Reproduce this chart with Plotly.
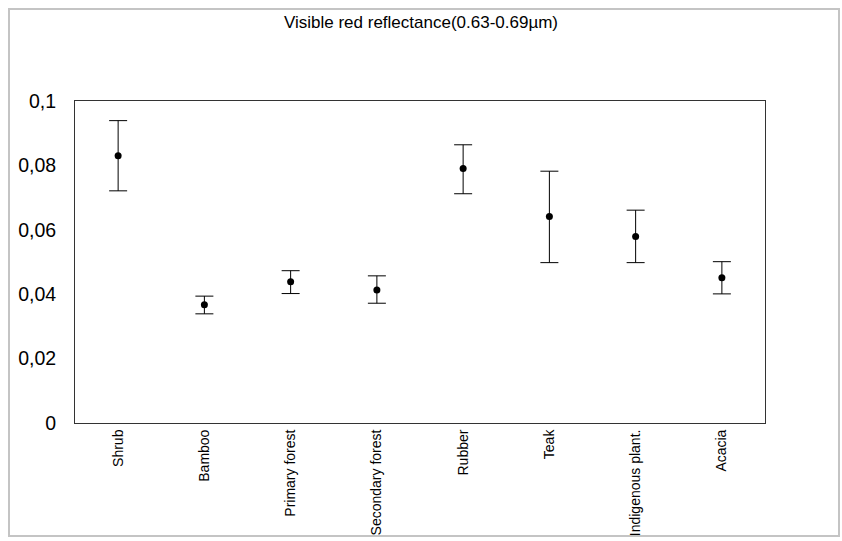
import plotly.graph_objects as go

categories = ["Shrub", "Bamboo", "Primary forest", "Secondary forest", "Rubber", "Teak", "Indigenous plant.", "Acacia"]
means = [0.0830, 0.0367, 0.0439, 0.0413, 0.0790, 0.0641, 0.0579, 0.0451]
upper = [0.0939, 0.0394, 0.0473, 0.0457, 0.0864, 0.0782, 0.0661, 0.0501]
lower = [0.0721, 0.0339, 0.0402, 0.0372, 0.0712, 0.0498, 0.0498, 0.0401]
y_ticks = [0, 0.02, 0.04, 0.06, 0.08, 0.1]

err_plus = [u - m for u, m in zip(upper, means)]
err_minus = [m - l for m, l in zip(means, lower)]

W, H = 842, 541
ml, mr, mt, mb = 75, 77, 101, 118
pw, ph = W - ml - mr, H - mt - mb

fig = go.Figure(go.Scatter(
    x=categories, y=means, mode="markers",
    marker=dict(color="black", size=7),
    error_y=dict(type="data", symmetric=False, array=err_plus, arrayminus=err_minus,
                 color="black", thickness=1, width=9),
    showlegend=False,
))

fig.update_layout(
    width=W, height=H,
    margin=dict(l=ml, r=mr, t=mt, b=mb, autoexpand=False),
    paper_bgcolor="white", plot_bgcolor="white",
    separators=", ",
    font=dict(family="Liberation Sans, Arial, sans-serif", color="black"),
    title=dict(text="Visible red reflectance(0.63-0.69µm)", x=0.5, xanchor="center",
               y=1 - 22 / H, yanchor="middle", font=dict(size=17)),
    xaxis=dict(range=[-0.5, len(categories) - 0.5], showgrid=False, showline=True,
               linecolor="#333", linewidth=1, mirror=True,
               tickangle=-90, tickfont=dict(size=14), ticks="", ticklabelstandoff=0,
               automargin=False),
    yaxis=dict(range=[0, 0.1], tickvals=y_ticks, showgrid=False, showline=True,
               linecolor="#333", linewidth=1, mirror=True, zeroline=False,
               tickfont=dict(size=19.5), ticks="", ticklabelstandoff=14,
               automargin=False),
    shapes=[dict(type="rect", xref="paper", yref="paper",
                 x0=(9 - ml) / pw, x1=(839 - ml) / pw,
                 y0=(H - mb - 536) / ph, y1=(H - mb - 9) / ph,
                 line=dict(color="#c4c4c4", width=2), layer="below")],
)

fig.write_html("out.html", config={"displayModeBar": False},
               post_script="document.body.style.margin='0';document.body.style.overflow='hidden';")
